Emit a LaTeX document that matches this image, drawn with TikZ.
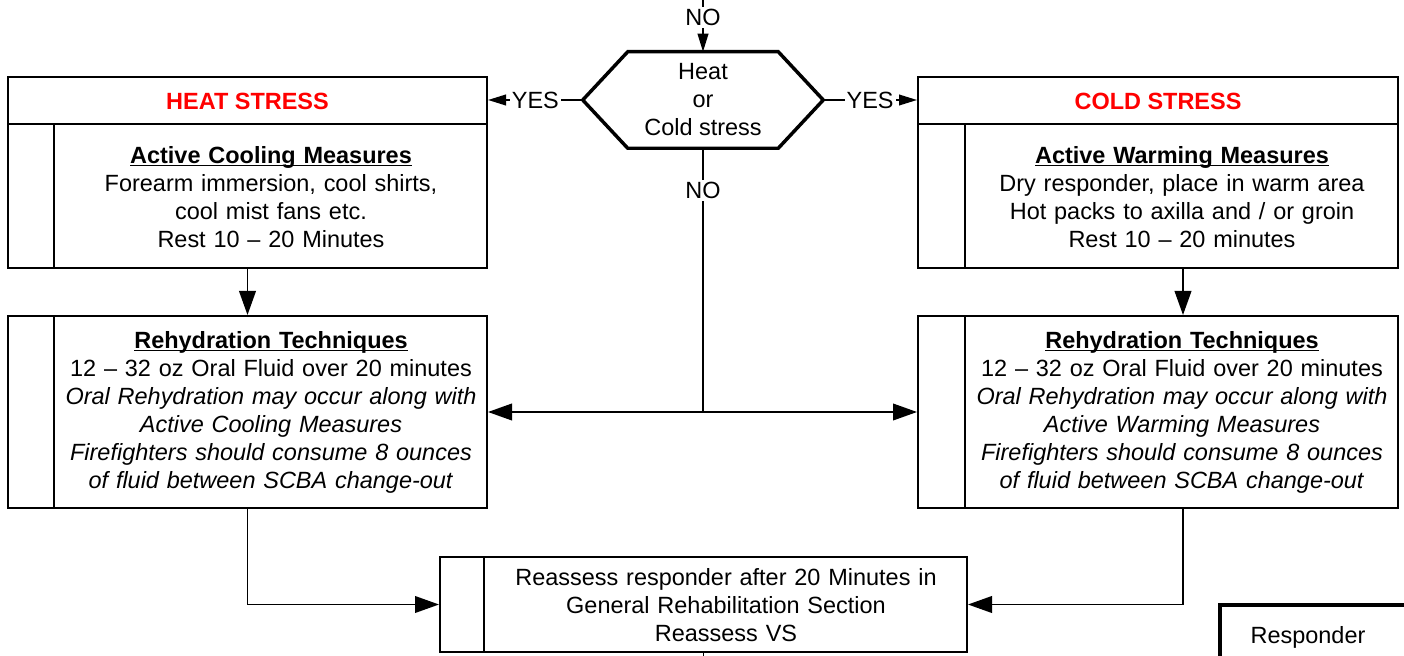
\documentclass[tikz,border=0pt]{standalone}
\usepackage{fontspec}
\setmainfont{Liberation Sans}
\usetikzlibrary{arrows.meta,calc}
\definecolor{hot}{RGB}{255,0,0}
\newcommand\ulbf[1]{\textbf{\underline{\smash{#1}}\vphantom{#1}}}
\begin{document}
\begin{tikzpicture}[x=0.75pt,y=-0.75pt,
  every node/.style={font=\fontsize{17.6pt}{21pt}\selectfont},
  box/.style={draw, line width=1.5pt, inner sep=0pt},
  txt/.style={align=center, inner sep=0pt},
  conn/.style={line width=1.3pt},
  bigarr/.style={conn, -{Triangle[length=18pt,width=12.5pt]}},
  bothbig/.style={conn, {Triangle[length=18pt,width=12.5pt]}-{Triangle[length=18pt,width=12.5pt]}},
  smallarr/.style={conn, -{Triangle[length=13.5pt,width=8pt]}},
  lbl/.style={fill=white, inner sep=1.5pt},
  hexline/.style={line width=2.6pt, line join=miter}]
\fill[white] (0,0) rectangle (1404,656);
\clip (0,0) rectangle (1404,656);

% hexagon decision
\node[minimum width=240*0.75pt, minimum height=96*0.75pt, inner sep=0pt] (hex) at (703,100) {};
\draw[hexline] (hex.west) -- ($(hex.north west)+(45,0)$) -- ($(hex.north east)+(-45,0)$)
  -- (hex.east) -- ($(hex.south east)+(-45,0)$) -- ($(hex.south west)+(45,0)$) -- cycle;
\node[txt] (hextxt) at (703,100) {Heat\\or\\Cold stress};

% boxes
\node[box, minimum width=479*0.75pt, minimum height=191*0.75pt] (heat) at (247.5,172.5) {};
\node[box, minimum width=480*0.75pt, minimum height=191*0.75pt] (cold) at (1158,172.5) {};
\node[box, minimum width=479*0.75pt, minimum height=192*0.75pt] (lreh) at (247.5,412) {};
\node[box, minimum width=480*0.75pt, minimum height=192*0.75pt] (rreh) at (1158,412) {};
\node[box, minimum width=527*0.75pt, minimum height=95*0.75pt] (reass) at (703.5,604.5) {};
\node[draw, line width=3pt, inner sep=0pt, minimum width=200*0.75pt, minimum height=100*0.75pt] (resp) at (1320,655) {};

% inner divisions
\draw[line width=1.5pt] ($(heat.north west)+(0,48)$) -- ($(heat.north east)+(0,48)$);
\draw[line width=1.5pt] ($(heat.north west)+(47,48)$) -- ($(heat.south west)+(47,0)$);
\draw[line width=1.5pt] ($(cold.north west)+(0,48)$) -- ($(cold.north east)+(0,48)$);
\draw[line width=1.5pt] ($(cold.north west)+(48,48)$) -- ($(cold.south west)+(48,0)$);
\draw[line width=1.5pt] ($(lreh.north west)+(47,0)$) -- ($(lreh.south west)+(47,0)$);
\draw[line width=1.5pt] ($(rreh.north west)+(48,0)$) -- ($(rreh.south west)+(48,0)$);
\draw[line width=1.5pt] ($(reass.north west)+(45,0)$) -- ($(reass.south west)+(45,0)$);

% texts
\node[txt, text=hot, font=\fontsize{17.6pt}{21pt}\selectfont\bfseries] (heattitle) at (247.5,101) {HEAT STRESS};
\node[txt, text=hot, font=\fontsize{17.6pt}{21pt}\selectfont\bfseries] (coldtitle) at (1158,101) {COLD STRESS};
\node[txt, text width=420*0.75pt] (heatbody) at (271,197) {\ulbf{Active Cooling Measures}\\Forearm immersion, cool shirts,\\cool mist fans etc.\\Rest 10 – 20 Minutes};
\node[txt, text width=420*0.75pt] (coldbody) at (1182,197) {\ulbf{Active Warming Measures}\\Dry responder, place in warm area\\Hot packs to axilla and / or groin\\Rest 10 – 20 minutes};
\node[txt, text width=430*0.75pt] (lrehbody) at (271,412.5) {\ulbf{Rehydration Techniques}\\12 – 32 oz Oral Fluid over 20 minutes\\\textit{Oral Rehydration may occur along with}\\\textit{Active Cooling Measures}\\\textit{Firefighters should consume 8 ounces}\\\textit{of fluid between SCBA change-out}};
\node[txt, text width=430*0.75pt] (rrehbody) at (1182,412.5) {\ulbf{Rehydration Techniques}\\12 – 32 oz Oral Fluid over 20 minutes\\\textit{Oral Rehydration may occur along with}\\\textit{Active Warming Measures}\\\textit{Firefighters should consume 8 ounces}\\\textit{of fluid between SCBA change-out}};
\node[txt, text width=480*0.75pt] (reasstxt) at (726,605.5) {Reassess responder after 20 Minutes in\\General Rehabilitation Section\\Reassess VS};
\node[txt] (resptxt) at (1308,637) {Responder};

% connectors
\coordinate (topin) at (703,-20);
\draw[smallarr] (topin) -- node[lbl, pos=0.52] {NO} (hex.north);
\draw[smallarr] (hex.west) -- node[lbl] {YES} (heat.east |- hex.west);
\draw[smallarr] (hex.east) -- node[lbl] {YES} (cold.west |- hex.east);
\coordinate (split) at (703,412);
\draw[conn] (hex.south) -- node[lbl, pos=0.16] {NO} (split);
\draw[bothbig] (split -| lreh.east) -- (split -| rreh.west);
\draw[bigarr] (heat.south) -- (lreh.north);
\draw[bigarr] ($(cold.south)+(25,0)$) -- ($(rreh.north)+(25,0)$);
\draw[bigarr] (lreh.south) |- (reass.west);
\draw[bigarr] ($(rreh.south)+(25,0)$) |- (reass.east);
\coordinate (bottomout) at (703.5,680);
\draw[conn] (reass.south) -- (bottomout);
\end{tikzpicture}
\end{document}
